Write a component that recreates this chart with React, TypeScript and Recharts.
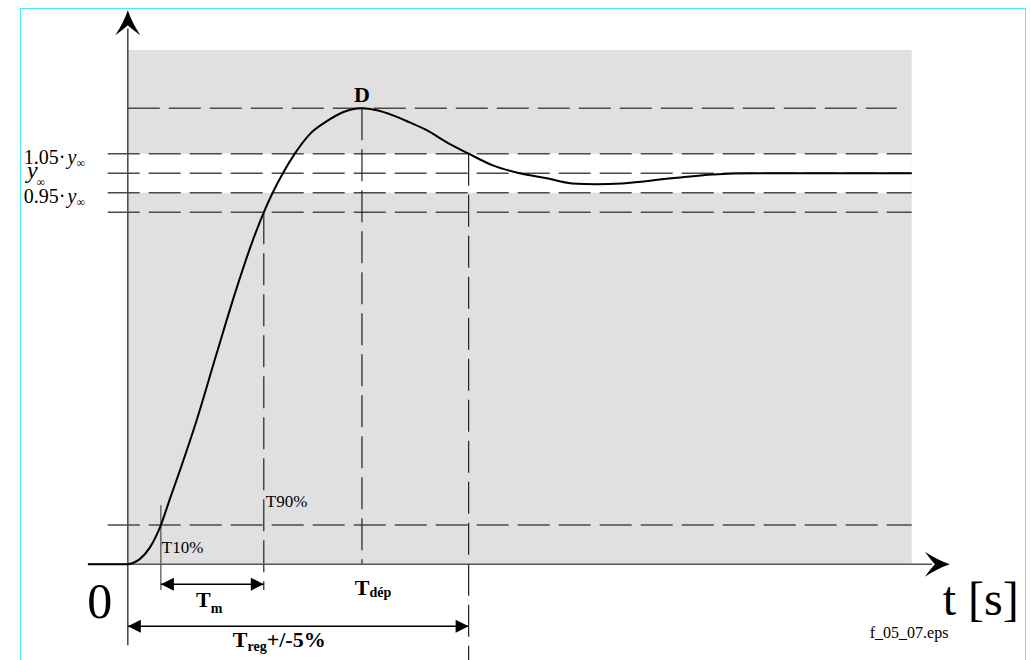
import {
  LineChart,
  Line,
  XAxis,
  YAxis,
  ReferenceArea,
  ReferenceLine,
  ReferenceDot
} from 'recharts'

// step response: t in s, y relative to y∞
const times = [
  -1.17, 0, 0.15, 0.35, 0.65, 0.97, 1.23, 1.53, 2.02, 2.61,
  3.2, 3.67, 3.99, 4.25, 4.55, 4.9, 5.34, 5.84, 6.31, 6.87,
  7.31, 7.78, 8.27, 8.77, 9.36, 10, 10.71, 11.5, 12.29, 13.03,
  13.76, 14.5, 15.96, 17.17, 18.4, 23
]
const response = [
  0, 0, 0.003, 0.013, 0.043, 0.1, 0.166, 0.24, 0.368, 0.54,
  0.708, 0.829, 0.9, 0.95, 1.0, 1.05, 1.1, 1.133, 1.156, 1.166,
  1.161, 1.148, 1.13, 1.11, 1.079, 1.05, 1.02, 1.0, 0.987, 0.974,
  0.972, 0.974, 0.987, 0.997, 1.0, 1.0
]

// levels and characteristic times
const peak = 1.166
const bandLevels = [1.05, 1.0, 0.95, 0.9, 0.1]
const t10 = 0.97
const t90 = 3.99
const tDep = 6.87
const tReg = 10
const tEnd = 23

const curve = times.map((t, i) => ({ t, y: response[i] }))

const serif = '"Liberation Serif", "Times New Roman", serif'
const ink = '#4a4a4a'
const dash = '32 9'

const stealth = (angle: number) => (p: any) => (
  <path
    transform={`translate(${p.cx},${p.cy}) rotate(${angle})`}
    d="M0,0 Q-12,-4 -25,-12.5 Q-18,-3 -15,0 Q-18,3 -25,12.5 Q-12,4 0,0 Z"
    fill="#000"
  />
)

const head = (angle: number) => (p: any) => (
  <path
    transform={`translate(${p.cx},${p.cy}) rotate(${angle})`}
    d="M0,0 L-13,-6.5 L-13,6.5 Z"
    fill="#000"
  />
)

const note = (node: any) => (p: any) => (
  <g transform={`translate(${p.cx},${p.cy})`} fontFamily={serif} fill="#000">
    {node}
  </g>
)

export default function App() {
  return (
    <div style={{ position: 'absolute', left: 0, top: 0, width: 1031, height: 660, background: '#fff' }}>
      <div
        style={{
          position: 'absolute',
          left: 20,
          top: 8,
          width: 1004,
          height: 660,
          borderTop: '1.5px solid #45eef8',
          borderLeft: '1.5px solid #45eef8',
          borderRight: '1.5px solid #45eef8'
        }}
      />
      <LineChart
        width={1031}
        height={660}
        data={curve}
        margin={{ top: 0, right: 0, bottom: 0, left: 0 }}
        style={{ position: 'absolute', left: 0, top: 0 }}
      >
        <XAxis type="number" dataKey="t" domain={[-3.75, 26.5]} allowDataOverflow hide />
        <YAxis type="number" domain={[-0.245, 1.443]} allowDataOverflow hide />

        <ReferenceArea x1={0} x2={tEnd} y1={0} y2={1.315} fill="#e0e0e0" fillOpacity={1} stroke="none" />
        <ReferenceArea x1={0} x2={tEnd} y1={0.95} y2={1.05} fill="#ffffff" fillOpacity={1} stroke="none" />

        {}
        <ReferenceLine segment={[{ x: 0, y: peak }, { x: 22.56, y: peak }]} stroke={ink} strokeWidth={1.5} strokeDasharray={dash} />
        {bandLevels.map(v => (
          <ReferenceLine
            key={v}
            segment={[{ x: -0.59, y: v }, { x: tEnd, y: v }]}
            stroke={ink}
            strokeWidth={1.5}
            strokeDasharray={dash}
          />
        ))}

        {}
        <ReferenceLine segment={[{ x: t10, y: 0.151 }, { x: t10, y: -0.066 }]} stroke={ink} strokeWidth={1.2} />
        <ReferenceLine segment={[{ x: t90, y: 0.9 }, { x: t90, y: -0.066 }]} stroke="#222" strokeWidth={1.2} strokeDasharray={dash} />
        <ReferenceLine segment={[{ x: tDep, y: peak }, { x: tDep, y: 0 }]} stroke="#222" strokeWidth={1.2} strokeDasharray={dash} />
        <ReferenceLine segment={[{ x: tReg, y: 1.05 }, { x: tReg, y: -0.245 }]} stroke="#222" strokeWidth={1.2} strokeDasharray={dash} />

        {}
        <ReferenceLine segment={[{ x: -1.17, y: 0 }, { x: 23.6, y: 0 }]} stroke="#555" strokeWidth={1.6} />
        <ReferenceLine segment={[{ x: 0, y: -0.207 }, { x: 0, y: 1.37 }]} stroke="#444" strokeWidth={1.5} />
        <ReferenceDot x={24.12} y={0} shape={stealth(0)} />
        <ReferenceDot x={0} y={1.417} shape={stealth(-90)} />

        {}
        <ReferenceLine segment={[{ x: t10, y: -0.051 }, { x: t90, y: -0.051 }]} stroke="#000" strokeWidth={1.5} />
        <ReferenceDot x={t10} y={-0.051} shape={head(180)} />
        <ReferenceDot x={t90} y={-0.051} shape={head(0)} />
        <ReferenceLine segment={[{ x: 0, y: -0.159 }, { x: tReg, y: -0.159 }]} stroke="#000" strokeWidth={1.5} />
        <ReferenceDot x={0} y={-0.159} shape={head(180)} />
        <ReferenceDot x={tReg} y={-0.159} shape={head(0)} />

        <Line
          type="monotone"
          dataKey="y"
          stroke="#000"
          strokeWidth={2}
          dot={false}
          activeDot={false}
          isAnimationActive={false}
        />

        {}
        <ReferenceDot x={-3.05} y={1.05} shape={note(
          <text x={0} y={10} fontSize={20}>
            1.05·<tspan dx={2} fontStyle="italic">y</tspan><tspan fontSize={12} dy={3}>∞</tspan>
          </text>
        )} />
        <ReferenceDot x={-2.96} y={1.0} shape={note(
          <text x={0} y={5} fontSize={24}>
            <tspan fontStyle="italic">y</tspan><tspan fontSize={12} dx={-1} dy={8}>∞</tspan>
          </text>
        )} />
        <ReferenceDot x={-3.05} y={0.95} shape={note(
          <text x={0} y={10} fontSize={20}>
            0.95·<tspan dx={2} fontStyle="italic">y</tspan><tspan fontSize={12} dy={3}>∞</tspan>
          </text>
        )} />
        <ReferenceDot x={tDep} y={peak} shape={note(
          <text x={0} y={-6} fontSize={22} fontWeight="bold" textAnchor="middle">D</text>
        )} />
        <ReferenceDot x={t90} y={0.146} shape={note(
          <text x={2} y={0} fontSize={17}>T90%</text>
        )} />
        <ReferenceDot x={t10} y={0.028} shape={note(
          <text x={1} y={0} fontSize={17}>T10%</text>
        )} />
        <ReferenceDot x={2.0} y={-0.11} shape={note(
          <text x={0} y={0} fontSize={22} fontWeight="bold">
            T<tspan fontSize={14} dy={6}>m</tspan>
          </text>
        )} />
        <ReferenceDot x={6.66} y={-0.079} shape={note(
          <text x={0} y={0} fontSize={22} fontWeight="bold">
            T<tspan fontSize={14} dy={2}>dép</tspan>
          </text>
        )} />
        <ReferenceDot x={3.08} y={-0.212} shape={note(
          <text x={0} y={0} fontSize={22} fontWeight="bold">
            T<tspan fontSize={14} dy={4}>reg</tspan><tspan dy={-4}>+/-5%</tspan>
          </text>
        )} />
        <ReferenceDot x={-0.82} y={-0.138} shape={note(
          <text x={0} y={0} fontSize={50} textAnchor="middle">0</text>
        )} />
        <ReferenceDot x={23.91} y={-0.13} shape={note(
          <text x={0} y={0} fontSize={48}>t [s]</text>
        )} />
        <ReferenceDot x={21.77} y={-0.189} shape={note(
          <text x={0} y={0} fontSize={16}>f_05_07.eps</text>
        )} />
      </LineChart>
    </div>
  )
}
